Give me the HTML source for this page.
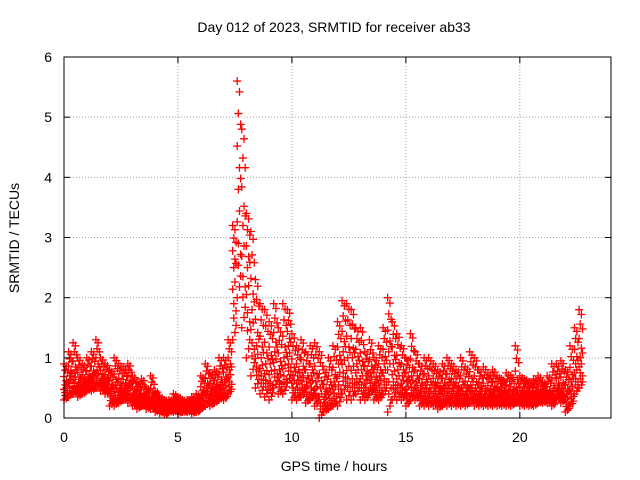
<!DOCTYPE html>
<html><head><meta charset="utf-8"><style>
body{margin:0;background:#fff;}
svg{display:block;font-family:"Liberation Sans",sans-serif;}
</style></head><body>
<svg id="chart" width="640" height="480">
<text x="334" y="32" font-size="14" text-anchor="middle">Day 012 of 2023, SRMTID for receiver ab33</text>
<text x="334" y="471" font-size="14" text-anchor="middle">GPS time / hours</text>
<text transform="translate(19,238) rotate(-90)" font-size="14" text-anchor="middle">SRMTID / TECUs</text>
<g id="grid"></g><g id="marks"></g><g id="axes"></g>
</svg>
<script>
const xTicks=[0,5,10,15,20];
const yTicks=[0,1,2,3,4,5,6];
const tStep=0.2;
const hiVals=[0.9,1.1,1.25,1.0,0.9, 1.0,1.1,1.3,1.0,0.9, 0.8,1.0,0.9,0.85,0.9, 0.7,0.6,0.65,0.5,0.7,
0.45,0.35,0.3,0.3,0.4, 0.35,0.3,0.3,0.35,0.4, 0.7,0.9,0.75,0.8,1.0, 1.0,1.3,3.2,5.6,4.8,
3.4,3.1,2.3,1.9,1.8, 1.6,1.9,1.5,1.9,1.8, 1.4,1.2,1.3,1.1,1.2, 1.25,1.1,0.8,1.0,1.2,
1.6,1.95,1.9,1.8,1.5, 1.5,1.1,1.3,1.0,1.2, 1.5,2.0,1.6,1.4,1.2, 1.0,1.4,1.1,0.9,1.0,
1.0,0.9,0.8,0.9,1.0, 0.9,0.8,1.0,0.85,1.1, 1.0,0.8,0.85,0.75,0.8, 0.7,0.65,0.75,0.7,1.2,
0.7,0.65,0.6,0.65,0.7, 0.6,0.7,0.9,0.9,0.95, 0.8,1.2,1.5,1.8];
const midVals=[0.55,0.7,0.75,0.6,0.6, 0.65,0.7,0.8,0.65,0.6, 0.5,0.55,0.5,0.5,0.55, 0.4,0.35,0.35,0.3,0.35,
0.25,0.2,0.18,0.2,0.22, 0.2,0.18,0.2,0.2,0.22, 0.4,0.5,0.45,0.5,0.55, 0.6,0.8,2.5,3.8,3.2,
2.5,1.8,1.2,1.0,0.9, 0.9,1.1,0.8,1.0,1.2, 0.7,0.7,0.75,0.6,0.7, 0.6,0.5,0.4,0.5,0.6,
0.9,1.1,1.0,1.0,0.9, 0.8,0.7,0.75,0.6,0.7, 0.9,1.1,0.9,0.8,0.7, 0.6,0.7,0.6,0.5,0.55,
0.5,0.5,0.45,0.5,0.55, 0.5,0.45,0.5,0.45,0.55, 0.5,0.45,0.4,0.4,0.45, 0.4,0.4,0.4,0.4,0.5,
0.4,0.4,0.35,0.4,0.4, 0.4,0.4,0.45,0.5,0.5, 0.4,0.6,0.9,1.0];
const loVals=[0.3,0.35,0.4,0.35,0.4, 0.45,0.45,0.5,0.45,0.4, 0.2,0.2,0.25,0.3,0.25, 0.2,0.15,0.2,0.15,0.15,
0.1,0.08,0.06,0.1,0.1, 0.08,0.1,0.1,0.08,0.1, 0.15,0.2,0.2,0.25,0.3, 0.3,0.4,1.3,2.0,1.5,
1.0,0.7,0.5,0.4,0.35, 0.3,0.5,0.4,0.4,0.6, 0.3,0.3,0.35,0.25,0.3, 0.2,0.0,0.1,0.15,0.2,
0.2,0.4,0.3,0.3,0.4, 0.3,0.3,0.4,0.3,0.3, 0.4,0.1,0.3,0.3,0.3, 0.2,0.3,0.3,0.2,0.2,
0.2,0.2,0.15,0.2,0.2, 0.2,0.2,0.2,0.2,0.25, 0.2,0.2,0.2,0.2,0.2, 0.2,0.2,0.2,0.2,0.25,
0.2,0.2,0.2,0.2,0.25, 0.25,0.25,0.2,0.3,0.25, 0.1,0.2,0.4,0.5];

const L=64,R=611,T=57,B=418;
const xs=v=>L+v*(R-L)/24;
const ys=v=>B-v*(B-T)/6;
const NS="http://www.w3.org/2000/svg";
function mk(tag,attrs,parent){const e=document.createElementNS(NS,tag);for(const k in attrs)e.setAttribute(k,attrs[k]);parent.appendChild(e);return e;}
const grid=document.getElementById('grid'),axes=document.getElementById('axes'),marks=document.getElementById('marks');
xTicks.forEach(v=>{
  if(v>0){const g=mk('line',{x1:xs(v),x2:xs(v),y1:T,y2:B,stroke:'#a0a0a0','stroke-dasharray':'1,2'},grid);
  
  }
  mk('line',{x1:xs(v),x2:xs(v),y1:B,y2:B-6,stroke:'#000'},axes);
  mk('line',{x1:xs(v),x2:xs(v),y1:T,y2:T+6,stroke:'#000'},axes);
  const t=mk('text',{x:xs(v),y:B+24,'font-size':14,'text-anchor':'middle'},axes);t.textContent=v;
  
  
});
yTicks.forEach(v=>{
  if(v>0&&v<6){const g=mk('line',{x1:L,x2:R,y1:ys(v),y2:ys(v),stroke:'#a0a0a0','stroke-dasharray':'1,2'},grid);
  
  }
  mk('line',{x1:L,x2:L+6,y1:ys(v),y2:ys(v),stroke:'#000'},axes);
  mk('line',{x1:R,x2:R-6,y1:ys(v),y2:ys(v),stroke:'#000'},axes);
  const t=mk('text',{x:L-12,y:ys(v)+5,'font-size':14,'text-anchor':'end'},axes);t.textContent=v;
  
  
});
const box=mk('rect',{x:L,y:T,width:R-L,height:B-T,fill:'none',stroke:'#000'},axes);


function cross(x,y,c){
  const p=mk('path',{d:`M${x-4},${y}h8M${x},${y-4}v8`,stroke:c,'stroke-width':1.3,fill:'none'},marks);
  
  
}
// render each bin as a dense band of crosses spanning lo..mid..hi
const colFracs=[[0,0.35,0.7,1],[0.15,0.5,0.85,0.25],[0.05,0.4,0.95,0.6],[0.2,0.55,0.8,0.1]];
hiVals.forEach((hi,i)=>{
  const lo=loVals[i],mid=midVals[i];
  const val=f=>f<0.5?lo+(mid-lo)*f*2:mid+(hi-mid)*(f-0.5)*2;
  colFracs.forEach((fr,k)=>{
    const t=i*tStep+k*0.05;
    fr.forEach(f=>cross(xs(t),ys(val(f)),'#ff0000'));
  });
});
</script>
</body></html>
